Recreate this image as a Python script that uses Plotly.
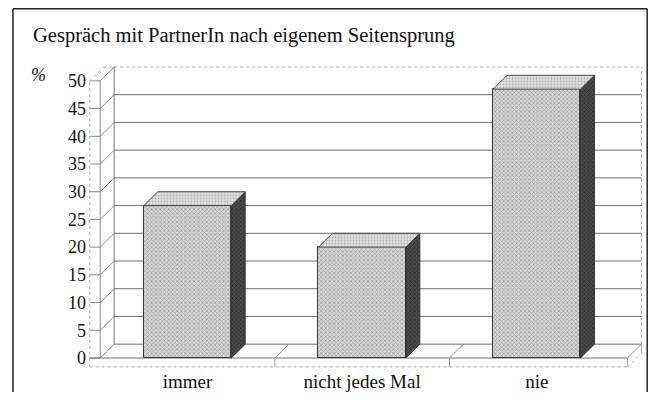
import plotly.graph_objects as go

# ---- data ----
categories = ["immer", "nicht jedes Mal", "nie"]
values = [27.5, 20, 48.5]
y_ticks = [0, 5, 10, 15, 20, 25, 30, 35, 40, 45, 50]
title_text = "Gespräch mit PartnerIn nach eigenem Seitensprung"

# ---- geometry / style constants ----
# page body has an 8px margin on every side, so the figure is 16px smaller
W, H = 640, 384
ML, MR, MT, MB = 80, 3, 57, 24
XR = [-0.57, 2.62]
YR = [-1.8, 52.86]
DX, DY = 0.08, 2.5          # 3D depth offset (data units)
BW = 0.5                     # bar width
X0 = -0.5                    # front axis position
XW = -0.56                   # outer face of left wall
XB = 2.6                     # right (back) wall
XE = 2.52                    # right end of floor front
SLAB = -1.6                  # floor slab bottom
FONT = "Liberation Serif, Times New Roman, serif"

xs = list(range(len(categories)))

fig = go.Figure()

# front faces of bars
fig.add_trace(go.Bar(
    x=xs, y=values, width=BW,
    marker=dict(color="#c8c8c8",
                line=dict(color="#3a3a3a", width=1),
                pattern=dict(shape="x", size=3, solidity=0.45,
                             fgcolor="#6a6a6a", bgcolor="#d8d8d8")),
    hoverinfo="skip", showlegend=False))

# side and top faces
for x, v in zip(xs, values):
    r = x + BW / 2
    l = x - BW / 2
    fig.add_trace(go.Scatter(
        x=[r, r + DX, r + DX, r, r], y=[0, DY, v + DY, v, 0],
        mode="lines", fill="toself", fillcolor="#333",
        fillpattern=dict(shape="x", size=3, solidity=0.45,
                         fgcolor="#151515", bgcolor="#4c4c4c"),
        line=dict(color="#2a2a2a", width=1),
        hoverinfo="skip", showlegend=False))
    fig.add_trace(go.Scatter(
        x=[l, l + DX, r + DX, r, l], y=[v, v + DY, v + DY, v, v],
        mode="lines", fill="toself", fillcolor="#d6d6d6",
        fillpattern=dict(shape=".", size=3, solidity=0.35,
                         fgcolor="#7a7a7a", bgcolor="#e2e2e2"),
        line=dict(color="#4a4a4a", width=1),
        hoverinfo="skip", showlegend=False))

shapes = []
def seg(x0, y0, x1, y1, color="#777", width=1, dash="solid"):
    shapes.append(dict(type="line", xref="x", yref="y", x0=x0, y0=y0,
                       x1=x1, y1=y1, layer="below",
                       line=dict(color=color, width=width, dash=dash)))

top = y_ticks[-1]
for k in y_ticks:
    if k < top:
        seg(X0 + DX, k + DY, XB, k + DY, "#707070", 1)
    else:
        seg(X0 + DX, k + DY, XB, k + DY, "#aaa", 1, "dot")
    seg(X0, k, X0 + DX, k + DY, "#888", 1)
    seg(XW, k, X0, k, "#888", 1)

# walls
seg(X0, 0, X0, top, "#888", 1)
seg(X0 + DX, DY, X0 + DX, top + DY, "#777", 1)
seg(XW, SLAB, XW, top, "#aaa", 1, "dot")
seg(XW, top, XW + DX, top + DY, "#aaa", 1, "dot")
seg(XW + DX, top + DY, X0 + DX, top + DY, "#aaa", 1, "dot")
seg(XB, DY, XB, top + DY, "#aaa", 1, "dot")

# floor
seg(XW, 0, XE, 0, "#707070", 1)
seg(XW, SLAB, XE, SLAB, "#aaa", 1, "dot")
seg(XE, 0, XB, DY, "#999", 1)
seg(XE, SLAB, XB, SLAB + DY, "#aaa", 1, "dot")
seg(XE, SLAB, XE, 0, "#aaa", 1)
seg(XB, SLAB + DY, XB, DY, "#aaa", 1)
for i in range(len(categories) - 1):
    b = xs[i] + 0.5
    seg(b, 0, b + DX, DY, "#888", 1)
    seg(b, SLAB, b, 0, "#999", 1)

# outer frame (figure pixel -> paper helpers)
PW, PH = W - ML - MR, H - MT - MB
def px(xp):
    return (xp - ML) / PW
def py(yp):
    return 1 - (yp - MT) / PH
for (a, b, c, d) in [(5, 0.8, 639.2, 0.8), (5, 0.8, 5, H), (639.2, 0.8, 639.2, H)]:
    shapes.append(dict(type="line", xref="paper", yref="paper",
                       x0=px(a), y0=py(b), x1=px(c), y1=py(d),
                       line=dict(color="#222", width=1.5)))

fig.update_layout(
    width=W, height=H,
    margin=dict(l=ML, r=MR, t=MT, b=MB, autoexpand=False),
    paper_bgcolor="white", plot_bgcolor="white",
    shapes=shapes,
    bargap=0,
    title=dict(text=title_text, x=25 / W, xanchor="left", xref="container",
               y=1 - 26.5 / H, yanchor="middle", yref="container",
               automargin=False,
               font=dict(family=FONT, size=20.5, color="#111")),
    xaxis=dict(range=XR, tickvals=xs, ticktext=categories, automargin=False,
               showgrid=False, zeroline=False, showline=False, ticks="",
               tickfont=dict(family=FONT, size=19, color="#111"),
               ticklabelstandoff=0, fixedrange=True),
    yaxis=dict(range=YR, tickvals=y_ticks, showgrid=False, zeroline=False,
               showline=False, ticks="", automargin=False,
               tickfont=dict(family=FONT, size=18, color="#111"),
               ticklabelstandoff=1, fixedrange=True),
    annotations=[dict(text="<i>%</i>", xref="paper", yref="paper",
                      x=px(30), y=py(67), xanchor="center", yanchor="middle",
                      showarrow=False,
                      font=dict(family=FONT, size=18, color="#111"))],
)

fig.write_html("out.html")
